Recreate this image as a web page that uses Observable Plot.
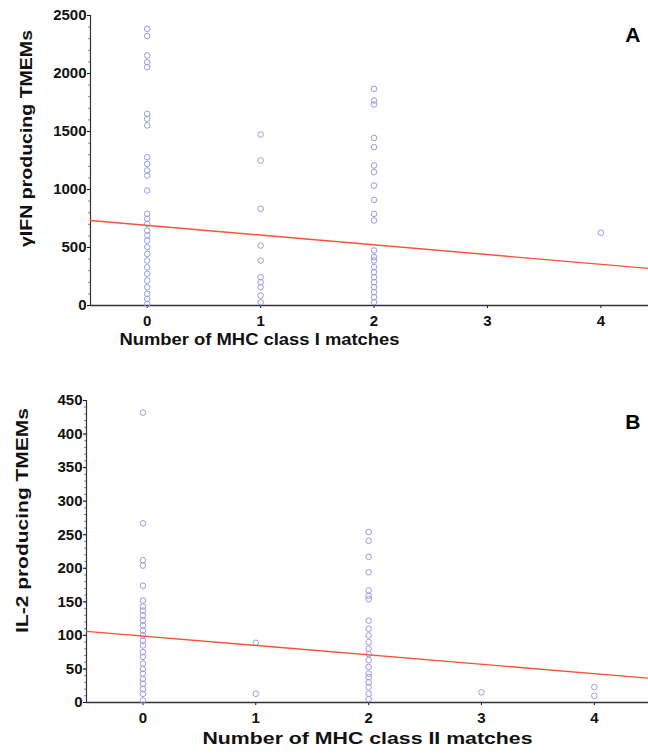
<!DOCTYPE html>
<html><head><meta charset="utf-8">
<script src="https://cdn.jsdelivr.net/npm/d3@7"></script>
<script src="https://cdn.jsdelivr.net/npm/@observablehq/plot@0.6"></script>
<style>
body{margin:0;background:#fff;font-family:"Liberation Sans",Arial,sans-serif}
#chart svg{display:block}
</style>
</head><body><div id="chart"></div>
<script>
// Panel A: γIFN producing TMEMs vs number of MHC class I matches
const ifnMatch0 = [2385,2323,2155,2098,2055,1652,1609,1552,1279,1221,1164,1121,991,790,747,704,646,603,560,503,445,388,330,273,215,158,101,57,14];
const ifnMatch1 = [1474,1250,833,517,388,244,201,158,86,29];
const ifnMatch2 = [1868,1767,1733,1445,1365,1207,1149,1034,911,790,733,474,417,388,330,287,244,201,158,115,72,29];
const ifnMatch4 = [627];
const ifnFit = {intercept: 691, slope: -84};

// Panel B: IL-2 producing TMEMs vs number of MHC class II matches
const il2Match0 = [432,267,212,204,174,152,143,137,130,122,115,107,100,92,85,75,68,58,50,43,35,28,20,13,3];
const il2Match1 = [89,13];
const il2Match2 = [254,241,217,194,167,159,154,122,110,100,90,80,72,63,53,43,38,30,23,13,5];
const il2Match3 = [15];
const il2Match4 = [23,10];
const il2Fit = {intercept: 99, slope: -14};

const xTicks = [0,1,2,3,4];
const ifnTicks = [0,500,1000,1500,2000,2500];
const il2Ticks = [0,50,100,150,200,250,300,350,400,450];

function rows(groups){
  const out = [];
  for (const [m, vals] of groups) for (const v of vals) out.push({m, v});
  return out;
}
const dataA = rows([[0,ifnMatch0],[1,ifnMatch1],[2,ifnMatch2],[4,ifnMatch4]]);
const dataB = rows([[0,il2Match0],[1,il2Match1],[2,il2Match2],[3,il2Match3],[4,il2Match4]]);

const pointColor = "#9a9ae6";
const lineColor = "#f5533a";
const axisColor = "#333";

function panel({data, fit, xDomain, yDomain, yTicks, minorStep, height, marginTop, marginBottom, marginLeft,
                xLabel, xLabelDx, xLabelDy, xLabelLen, yLabel, yLabelDx, yLabelDy, yLabelLen, letter, letterDy}) {
  const fitLine = xDomain.map(x => ({x, y: fit.intercept + fit.slope * x}));
  const svg = Plot.plot({
    width: 648, height, marginTop, marginBottom, marginLeft, marginRight: 0,
    style: {fontFamily: "'Liberation Sans', Arial, sans-serif", fontWeight: "bold", fontSize: "15px", color: "#111", background: "#fff"},
    x: {domain: xDomain},
    y: {domain: yDomain},
    marks: [
      Plot.axisY(d3.range(yDomain[0], yDomain[1] + 1, minorStep), {tickSize: 2, text: null, stroke: "#666", strokeWidth: 0.8}),
      Plot.axisY(yTicks, {tickSize: 3, tickPadding: 1, tickFormat: "d", label: null, fontWeight: "bold", fontSize: 15}),
      Plot.axisX(xTicks, {tickSize: 3, tickPadding: 7, tickFormat: "d", label: null, fontWeight: "bold", fontSize: 15}),
      Plot.ruleY([yDomain[0]], {stroke: axisColor, strokeWidth: 1.6}),
      Plot.ruleX([xDomain[0]], {y1: yDomain[0], y2: yDomain[1], stroke: axisColor, strokeWidth: 1.2}),
      Plot.dot(data, {x: "m", y: "v", r: 2.8, stroke: pointColor, strokeWidth: 1, fill: "none"}),
      Plot.line(fitLine, {x: "x", y: "y", stroke: lineColor, strokeWidth: 1.4}),
      Plot.text([xLabel], {frameAnchor: "bottom", dy: xLabelDy, dx: xLabelDx, fontSize: 17, fontWeight: "bold", fill: "#111"}),
      Plot.text([yLabel], {frameAnchor: "left", textAnchor: "middle", rotate: -90, dx: yLabelDx, dy: yLabelDy, fontSize: 17, fontWeight: "bold", fill: "#111"}),
      Plot.text([letter], {frameAnchor: "top-right", dx: -8, dy: letterDy, fontSize: 21, fontWeight: "bold", fill: "#000"})
    ]
  });
  // stretch the axis titles to the width they have in the reference
  d3.select(svg).selectAll("text").each(function() {
    if (this.textContent === xLabel) { this.setAttribute("textLength", xLabelLen); this.setAttribute("lengthAdjust", "spacingAndGlyphs"); }
    if (this.textContent === yLabel) { this.setAttribute("textLength", yLabelLen); this.setAttribute("lengthAdjust", "spacingAndGlyphs"); }
  });
  return svg;
}

const chart = document.getElementById("chart");
chart.append(panel({
  data: dataA, fit: ifnFit, xDomain: [-0.5, 4.42], yDomain: [0, 2500], yTicks: ifnTicks, minorStep: 100,
  height: 365, marginTop: 15, marginBottom: 60, marginLeft: 90,
  xLabel: "Number of MHC class I matches", xLabelDx: -110, xLabelDy: 39, xLabelLen: 280,
  yLabel: "γIFN producing TMEMs", yLabelDx: -64, yLabelDy: -22, yLabelLen: 217, letter: "A", letterDy: 12
}));
chart.append(panel({
  data: dataB, fit: il2Fit, xDomain: [-0.5, 4.48], yDomain: [0, 450], yTicks: il2Ticks, minorStep: 10,
  height: 390, marginTop: 35, marginBottom: 53, marginLeft: 86,
  xLabel: "Number of MHC class II matches", xLabelDx: 0, xLabelDy: 41, xLabelLen: 330,
  yLabel: "IL-2 producing TMEMs", yLabelDx: -64, yLabelDy: -31, yLabelLen: 225, letter: "B", letterDy: 14
}));
</script>
</body></html>
